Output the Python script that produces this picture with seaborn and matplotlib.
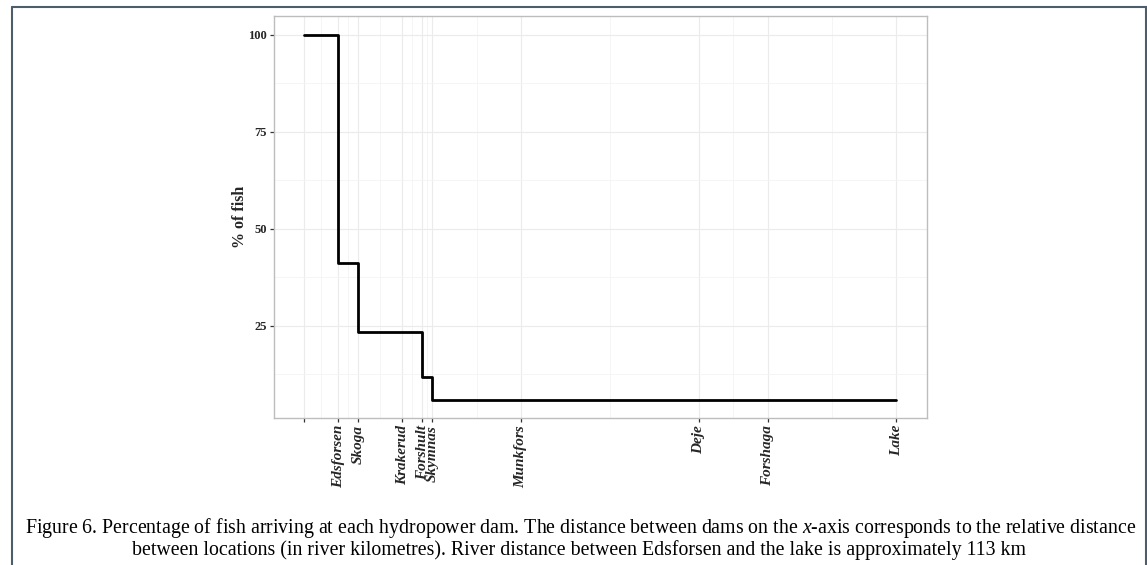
import matplotlib
matplotlib.use("Agg")
import matplotlib.pyplot as plt
import seaborn as sns
import pandas as pd
from matplotlib.lines import Line2D

# Data
locations = ["", "Edsforsen", "Skoga", "Krakerud", "Forshult", "Skymnas",
             "Munkfors", "Deje", "Forshaga", "Lake"]
river_km = [-7, 0, 4, 13, 17, 19, 37, 73, 87, 113]
pct_fish = [100, 41.2, 23.5, 23.5, 11.8, 5.9, 5.9, 5.9, 5.9, 5.9]
y_ticks = [25, 50, 75, 100]
y_minor = [12.5, 37.5, 62.5, 87.5]

df = pd.DataFrame({"km": river_km, "pct": pct_fish, "loc": locations})

sns.set_theme(style="white")
plt.rcParams["font.family"] = ["Liberation Serif", "DejaVu Serif"]
plt.rcParams["mathtext.fontset"] = "custom"
plt.rcParams["mathtext.it"] = "Liberation Serif:italic"
plt.rcParams["mathtext.rm"] = "Liberation Serif"

fig = plt.figure(figsize=(11.47, 5.65), dpi=100)
ax = fig.add_axes([274/1147, 1 - 418/565, 653/1147, 402/565])

# grid lines
x_minor = [(river_km[i] + river_km[i+1]) / 2 for i in range(len(river_km) - 1)]
for x in river_km:
    ax.axvline(x, color="#ebebeb", lw=0.8, zorder=0)
for x in x_minor:
    ax.axvline(x, color="#f4f4f4", lw=0.6, zorder=0)
for y in y_ticks:
    ax.axhline(y, color="#ebebeb", lw=0.8, zorder=0)
for y in y_minor:
    ax.axhline(y, color="#f4f4f4", lw=0.6, zorder=0)

sns.lineplot(data=df, x="km", y="pct", drawstyle="steps-post", color="black",
             lw=2.0, ax=ax, zorder=3, legend=False)

ax.set_xlim(-13, 119.2)
ax.set_ylim(1.2, 104.9)
ax.set_xticks(river_km)
ax.set_xticklabels(locations, rotation=90, fontstyle="italic", fontweight="bold",
                   fontsize=11)
ax.set_yticks(y_ticks)
ax.set_yticklabels([str(v) for v in y_ticks], fontsize=9, fontweight="bold")
ax.tick_params(axis="both", which="major", length=3, width=0.9, color="#333333",
               direction="out", bottom=True, left=True, pad=2)
ax.set_xlabel("")
ax.set_ylabel("% of fish", fontsize=11.5, fontweight="bold", labelpad=0)
for s in ax.spines.values():
    s.set_color("#bdbdbd")
    s.set_linewidth(1.0)

caption1 = ("Figure 6. Percentage of fish arriving at each hydropower dam. The distance between dams on the "
            "$x$-axis corresponds to the relative distance")
caption2 = ("between locations (in river kilometres). River distance between Edsforsen and the lake "
            "is approximately 113 km")
fig.text(581/1147, 1 - 528/565, caption1, ha="center", va="center", fontsize=14.3,
         color="black")
fig.text(579/1147, 1 - 550/565, caption2, ha="center", va="center", fontsize=14.3,
         color="black")

# screenshot frame
fc = "#4d5d6b"
fig.add_artist(Line2D([12/1147, 12/1147], [0, 1 - 7/565], transform=fig.transFigure,
                      color=fc, lw=1.5))
fig.add_artist(Line2D([12/1147, 1], [1 - 7/565, 1 - 7/565], transform=fig.transFigure,
                      color=fc, lw=1.5))
fig.add_artist(Line2D([1146/1147, 1146/1147], [0, 1 - 7/565], transform=fig.transFigure,
                      color=fc, lw=1.5))

fig.savefig("out.png", dpi=100)
